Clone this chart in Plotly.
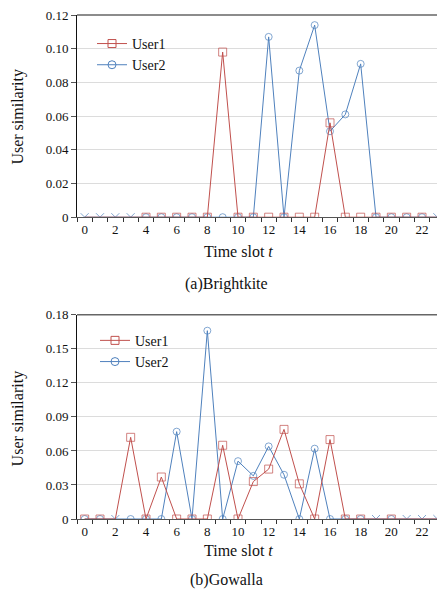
import plotly.graph_objects as go

hours = list(range(24))
x_tick_vals = list(range(0, 24, 2))

# Brightkite
bk_user1 = [0]*24
bk_user1[9] = 0.098; bk_user1[16] = 0.056
bk_user2 = [0]*24
bk_user2[12] = 0.107; bk_user2[14] = 0.087; bk_user2[15] = 0.114
bk_user2[16] = 0.051; bk_user2[17] = 0.061; bk_user2[18] = 0.091
# marker kinds per hour: s=square, o=circle, x=cross, n=none
bk_mark1 = "nnnn" + "s"*19 + "n"
bk_mark2 = "xxxx" + "o"*19 + "x"

# Gowalla
gw_user1 = [0, 0, 0, 0.072, 0, 0.037, 0, 0, 0, 0.065, 0, 0.033, 0.044, 0.079,
            0.031, 0, 0.070, 0, 0, 0, 0, 0, 0, 0]
gw_user2 = [0, 0, 0, 0, 0, 0, 0.077, 0, 0.166, 0, 0.051, 0.038, 0.064, 0.039,
            0, 0.062, 0, 0, 0, 0, 0, 0, 0, 0]
gw_mark1 = "ssnssssssssssssssssnsnnn"
gw_mark2 = "oox" + "o"*16 + "xoxxx"

RED = "#c0504d"
BLUE = "#4f81bd"
FONT = "Liberation Serif"

sym_map = {"s": "square-open", "o": "circle-open", "x": "x-thin-open", "n": "circle-open"}
size_map = {"s": 8, "o": 7, "x": 8, "n": 0}

fig = go.Figure()

def add_pair(y1, y2, m1, m2, xa, ya, leg):
    fig.add_trace(go.Scatter(
        x=hours, y=y2, name="User2", mode="lines+markers", xaxis=xa, yaxis=ya,
        line=dict(color=BLUE, width=1), showlegend=False,
        marker=dict(symbol=[sym_map[c] for c in m2], size=[size_map[c] for c in m2],
                    color=BLUE, line=dict(color=BLUE, width=1))))
    fig.add_trace(go.Scatter(
        x=hours, y=y1, name="User1", mode="lines+markers", xaxis=xa, yaxis=ya,
        line=dict(color=RED, width=1), showlegend=False,
        marker=dict(symbol=[sym_map[c] for c in m1], size=[size_map[c] for c in m1],
                    color=RED, line=dict(color=RED, width=1))))
    # legend entries
    for name, col, sym, rank in [("User1", RED, "square-open", 1), ("User2", BLUE, "circle-open", 2)]:
        fig.add_trace(go.Scatter(
            x=[None], y=[None], name=name, mode="lines+markers", xaxis=xa, yaxis=ya,
            legend=leg, legendrank=rank, line=dict(color=col, width=1),
            marker=dict(symbol=sym, size=8, color=col, line=dict(color=col, width=1))))

add_pair(bk_user1, bk_user2, bk_mark1, bk_mark2, "x", "y", "legend")
add_pair(gw_user1, gw_user2, gw_mark1, gw_mark2, "x2", "y2", "legend2")

H = 506.0
def py(p):
    return (519 - p) / H

def pxp(p):
    return (p - 77) / 368.0

xaxis_common = dict(range=[-0.5, 23.5], tickvals=x_tick_vals, ticks="", showgrid=False,
                    zeroline=False, showline=True, linecolor="#555", linewidth=1,
                    tickfont=dict(family=FONT, size=13, color="#111"),
                    minor=dict(tick0=0.5, dtick=1, ticks="outside", ticklen=4,
                               tickcolor="#333", showgrid=False))

yaxis_common = dict(showgrid=True, gridcolor="#dcdcdc", zeroline=False, showline=True,
                    linecolor="#111", linewidth=1, ticks="outside", ticklen=5, tickcolor="#555",
                    ticklabeloverflow="allow",
                    tickfont=dict(family=FONT, size=13, color="#111"))

# page body has an 8px margin: figure placed at (8, 8) in the window
fig.update_layout(
    width=437, height=583, margin=dict(l=69, r=0, t=5, b=72),
    plot_bgcolor="white", paper_bgcolor="white",
    font=dict(family=FONT, size=13, color="#111"),
    xaxis=dict(domain=[0, 1], anchor="y", **xaxis_common),
    yaxis=dict(domain=[py(216), 1], range=[0, 0.12], tickvals=[0, 0.02, 0.04, 0.06, 0.08, 0.10, 0.12],
               ticktext=["0", "0.02", "0.04", "0.06", "0.08", "0.10", "0.12"], anchor="x",
               **yaxis_common),
    xaxis2=dict(domain=[0, 1], anchor="y2", **xaxis_common),
    yaxis2=dict(domain=[0, py(314)], range=[0, 0.18], tickvals=[0, 0.03, 0.06, 0.09, 0.12, 0.15, 0.18],
                ticktext=["0", "0.03", "0.06", "0.09", "0.12", "0.15", "0.18"], anchor="x2",
                **yaxis_common),
    legend=dict(x=pxp(92), y=py(26), xanchor="left", yanchor="top", bgcolor="rgba(0,0,0,0)",
                font=dict(family=FONT, size=14, color="#111"), tracegroupgap=0, itemwidth=30),
    legend2=dict(x=pxp(95), y=py(324), xanchor="left", yanchor="top", bgcolor="rgba(0,0,0,0)",
                 font=dict(family=FONT, size=14, color="#111"), tracegroupgap=0, itemwidth=30),
)

# top border lines of each plot area
for yy in [1, py(314)]:
    fig.add_shape(type="line", xref="paper", yref="paper", x0=0, x1=1, y0=yy, y1=yy,
                  line=dict(color="#666", width=1.5))

ann = [
    ("User similarity", pxp(18), py(115), -90),
    ("User similarity", pxp(18), py(418), -90),
    ("Time slot <i>t</i>", pxp(238), py(250), 0),
    ("Time slot <i>t</i>", pxp(238), py(551), 0),
    ("(a)Brightkite", pxp(226), py(283), 0),
    ("(b)Gowalla", pxp(226), py(580), 0),
]
for text, x, y, ang in ann:
    fig.add_annotation(text=text, x=x, y=y, xref="paper", yref="paper", showarrow=False,
                       textangle=ang, font=dict(family=FONT, size=16, color="#111"),
                       xanchor="center", yanchor="middle")

fig.write_html("out.html")
